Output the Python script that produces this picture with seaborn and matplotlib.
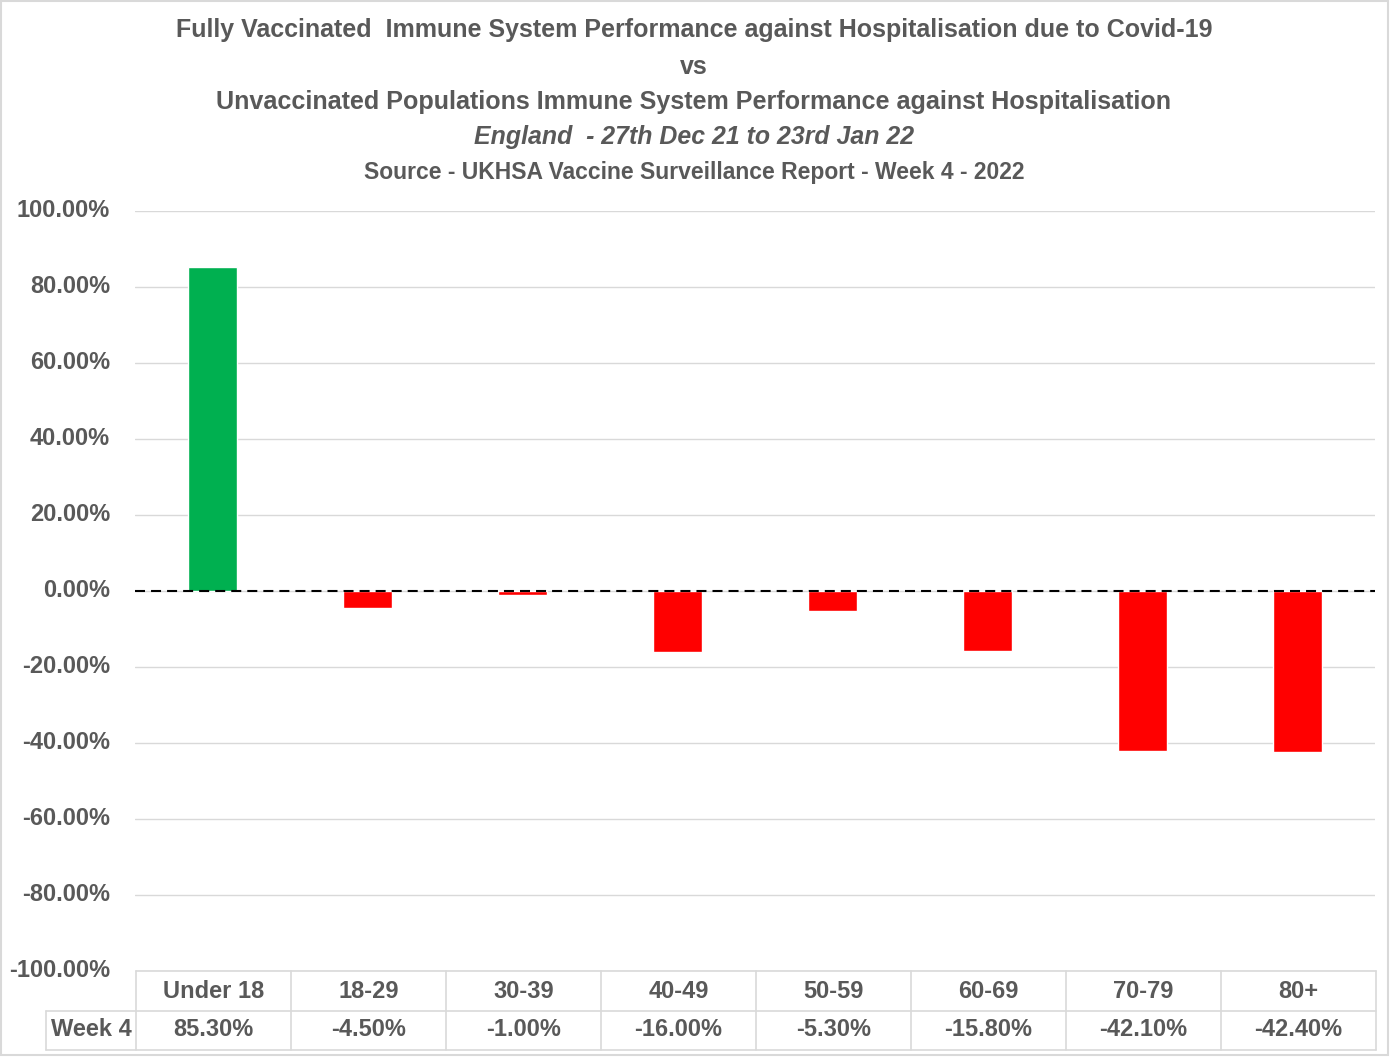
import matplotlib
matplotlib.use("Agg")
import matplotlib.pyplot as plt
import matplotlib.transforms as mtransforms
import seaborn as sns
import pandas as pd
from matplotlib.patches import Rectangle
from matplotlib.lines import Line2D
from matplotlib.ticker import FuncFormatter

# data
age_groups = ["Under 18", "18-29", "30-39", "40-49", "50-59", "60-69", "70-79", "80+"]
week4 = [85.3, -4.5, -1.0, -16.0, -5.3, -15.8, -42.1, -42.4]
row_label = "Week 4"
y_ticks = [-100, -80, -60, -40, -20, 0, 20, 40, 60, 80, 100]

title_lines = [
    "Fully Vaccinated  Immune System Performance against Hospitalisation due to Covid-19",
    "vs",
    "Unvaccinated Populations Immune System Performance against Hospitalisation",
    "England  - 27th Dec 21 to 23rd Jan 22",
    "Source - UKHSA Vaccine Surveillance Report - Week 4 - 2022",
]

df = pd.DataFrame({"age": age_groups, "value": [v / 100 for v in week4]})
df["sign"] = ["pos" if v >= 0 else "neg" for v in df["value"]]

sns.set_theme(style="white")
plt.rcParams['font.family'] = ['Liberation Sans', 'DejaVu Sans']
grey_txt = "#595959"
grid_col = "#D9D9D9"

W, H = 1390, 1057
fig = plt.figure(figsize=(W / 100, H / 100), dpi=100)


def fx(x):
    return x / W


def fy(y):
    return 1 - y / H


ax = fig.add_axes([fx(135), fy(971), 1240 / W, 760 / H])
sns.barplot(data=df, x="age", y="value", hue="sign",
            palette={"pos": "#00B050", "neg": "#FF0000"},
            width=0.314, dodge=False, legend=False, saturation=1, ax=ax)

ax.set_xlim(-0.5, len(age_groups) - 0.5)
ax.set_ylim(-1, 1)
ax.set_yticks([t / 100 for t in y_ticks])
ax.yaxis.set_major_formatter(FuncFormatter(lambda v, p: f"{v * 100:.2f}%"))
ax.yaxis.grid(True, color=grid_col, lw=1)
ax.set_axisbelow(True)
for s in ax.spines.values():
    s.set_visible(False)
ax.tick_params(axis="y", length=0, pad=18, labelsize=17, labelcolor=grey_txt)
shift = mtransforms.ScaledTranslation(0, 3 / 100, fig.dpi_scale_trans)
for lab in ax.get_yticklabels():
    lab.set_fontweight("bold")
    lab.set_transform(lab.get_transform() + shift)
ax.tick_params(axis="x", length=0, labelbottom=False)
ax.set_xlabel("")
ax.set_ylabel("")
ax.axhline(0, color="black", lw=1.5, ls=(0, (4.8, 2.9)))

# data table under the axis
lines = []
lines.append(((136, 1376), (971, 971)))
lines.append(((46, 1376), (1011, 1011)))
lines.append(((46, 1376), (1050, 1050)))
lines.append(((46, 46), (1011, 1050)))
col_w = 1240 / len(age_groups)
for i in range(len(age_groups) + 1):
    x = 136 + i * col_w
    lines.append(((x, x), (971, 1050)))
for xs, ys in lines:
    fig.add_artist(Line2D([fx(xs[0]), fx(xs[1])], [fy(ys[0]), fy(ys[1])],
                          color=grid_col, lw=1.2, transform=fig.transFigure))

for i, (g, v) in enumerate(zip(age_groups, week4)):
    cx = 136 + (i + 0.5) * col_w
    fig.text(fx(cx), fy(991), g, ha="center", va="center", fontsize=17,
             fontweight="bold", color=grey_txt)
    fig.text(fx(cx), fy(1030), f"{v:.2f}%", ha="center", va="center", fontsize=17,
             fontweight="bold", color=grey_txt)
fig.text(fx(91), fy(1030), row_label, ha="center", va="center", fontsize=17,
         fontweight="bold", color=grey_txt)

# title
title_y = [30, 67, 102, 137, 172]
title_size = [18, 18, 18.1, 17.9, 16.5]
for i, (t, y) in enumerate(zip(title_lines, title_y)):
    fig.text(fx(694), fy(y), t, ha="center", va="center",
             fontsize=title_size[i], fontweight="bold", color=grey_txt,
             style="italic" if i == 3 else "normal")

# chart border
fig.add_artist(Rectangle((fx(1), fy(1055)), fx(1387), 1054 / H, fill=False,
                         edgecolor=grid_col, lw=1.5, transform=fig.transFigure))

fig.savefig("out.png", dpi=100)
